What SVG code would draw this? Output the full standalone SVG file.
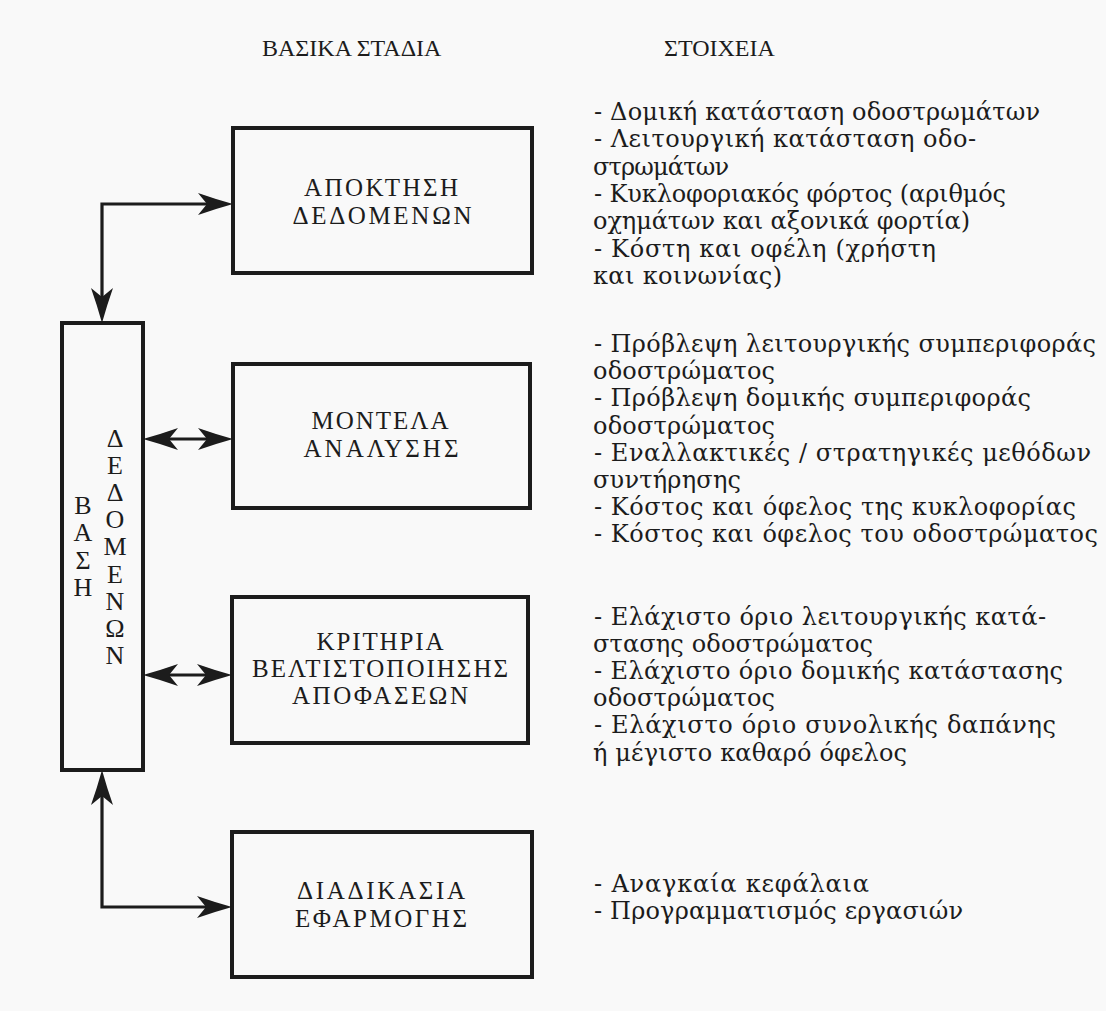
<svg xmlns="http://www.w3.org/2000/svg" width="1106" height="1011" viewBox="0 0 1106 1011">
<style>
.bg{fill:#f9f9f9}
.box{fill:none;stroke:#1c1c1c;stroke-width:4}
.conn{fill:none;stroke:#1c1c1c;stroke-width:3.2}
.cap{font-family:"Liberation Serif","DejaVu Serif",serif;font-size:25px;fill:#1c1c1c;text-anchor:middle}
.hd{font-family:"Liberation Serif","DejaVu Serif",serif;font-size:24px;fill:#1c1c1c}
.vt{font-family:"Liberation Serif","DejaVu Serif",serif;font-size:26px;fill:#1c1c1c;text-anchor:middle}
.it{font-family:"DejaVu Serif","Liberation Serif",serif;font-size:24px;fill:#1c1c1c}
</style>
<defs>
<marker id="ah" viewBox="-30 -12 40 24" refX="0" refY="0" markerWidth="40" markerHeight="24" markerUnits="userSpaceOnUse" orient="auto-start-reverse">
<path d="M8,0 Q-10,-5 -27,-11 L-18,0 L-27,11 Q-10,5 8,0 Z" fill="#1c1c1c"/>
</marker>
</defs>
<rect class="bg" x="0" y="0" width="1106" height="1011"/>

<g id="headers">
<text class="hd" x="262" y="56">ΒΑΣΙΚΑ ΣΤΑΔΙΑ</text>
<text class="hd" x="664" y="56">ΣΤΟΙΧΕΙΑ</text>
</g>

<g id="node-database">
<rect class="box" x="62" y="323" width="81" height="447"/>
<text class="vt" x="83" y="514">Β</text>
<text class="vt" x="83" y="541">Α</text>
<text class="vt" x="83" y="569">Σ</text>
<text class="vt" x="83" y="596">Η</text>
<text class="vt" x="115" y="447">Δ</text>
<text class="vt" x="115" y="474">Ε</text>
<text class="vt" x="115" y="501">Δ</text>
<text class="vt" x="115" y="528">Ο</text>
<text class="vt" x="115" y="555">Μ</text>
<text class="vt" x="115" y="583">Ε</text>
<text class="vt" x="115" y="610">Ν</text>
<text class="vt" x="115" y="637">Ω</text>
<text class="vt" x="115" y="664">Ν</text>
</g>

<g id="node-acquisition">
<rect class="box" x="233" y="128" width="299" height="145"/>
<text class="cap" x="381" y="196" textLength="154" lengthAdjust="spacing">ΑΠΟΚΤΗΣΗ</text>
<text class="cap" x="382" y="224" textLength="179" lengthAdjust="spacing">ΔΕΔΟΜΕΝΩΝ</text>
</g>

<g id="node-models">
<rect class="box" x="233" y="364" width="297" height="144"/>
<text class="cap" x="380" y="429" textLength="137" lengthAdjust="spacing">ΜΟΝΤΕΛΑ</text>
<text class="cap" x="381" y="457" textLength="155" lengthAdjust="spacing">ΑΝΑΛΥΣΗΣ</text>
</g>

<g id="node-criteria">
<rect class="box" x="232" y="597" width="296" height="146"/>
<text class="cap" x="380" y="650" textLength="127" lengthAdjust="spacing">ΚΡΙΤΗΡΙΑ</text>
<text class="cap" x="380" y="677" textLength="256" lengthAdjust="spacing">ΒΕΛΤΙΣΤΟΠΟΙΗΣΗΣ</text>
<text class="cap" x="380" y="704" textLength="176" lengthAdjust="spacing">ΑΠΟΦΑΣΕΩΝ</text>
</g>

<g id="node-implementation">
<rect class="box" x="232" y="832" width="300" height="145"/>
<text class="cap" x="381" y="899" textLength="168" lengthAdjust="spacing">ΔΙΑΔΙΚΑΣΙΑ</text>
<text class="cap" x="381" y="927" textLength="172" lengthAdjust="spacing">ΕΦΑΡΜΟΓΗΣ</text>
</g>

<g id="connectors">
<path class="conn" d="M102,315 V204 H225" marker-start="url(#ah)" marker-end="url(#ah)"/>
<path class="conn" d="M151,439 H225" marker-start="url(#ah)" marker-end="url(#ah)"/>
<path class="conn" d="M151,675 H224" marker-start="url(#ah)" marker-end="url(#ah)"/>
<path class="conn" d="M102,778 V907 H224" marker-start="url(#ah)" marker-end="url(#ah)"/>
</g>

<g id="items-acquisition">
<text class="it" x="594" y="120" textLength="446" lengthAdjust="spacing">- Δομική κατάσταση οδοστρωμάτων</text>
<text class="it" x="594" y="147" textLength="382" lengthAdjust="spacing">- Λειτουργική κατάσταση οδο-</text>
<text class="it" x="593" y="175" textLength="136" lengthAdjust="spacing">στρωμάτων</text>
<text class="it" x="594" y="202" textLength="412" lengthAdjust="spacing">- Κυκλοφοριακός φόρτος (αριθμός</text>
<text class="it" x="593" y="229" textLength="377" lengthAdjust="spacing">οχημάτων και αξονικά φορτία)</text>
<text class="it" x="594" y="257" textLength="342" lengthAdjust="spacing">- Κόστη  και οφέλη (χρήστη</text>
<text class="it" x="593" y="284" textLength="189" lengthAdjust="spacing">και κοινωνίας)</text>
</g>

<g id="items-models">
<text class="it" x="594" y="352" textLength="502" lengthAdjust="spacing">- Πρόβλεψη λειτουργικής συμπεριφοράς</text>
<text class="it" x="593" y="379" textLength="182" lengthAdjust="spacing">οδοστρώματος</text>
<text class="it" x="594" y="406" textLength="437" lengthAdjust="spacing">- Πρόβλεψη δομικής συμπεριφοράς</text>
<text class="it" x="593" y="434" textLength="182" lengthAdjust="spacing">οδοστρώματος</text>
<text class="it" x="594" y="461" textLength="497" lengthAdjust="spacing">- Εναλλακτικές / στρατηγικές μεθόδων</text>
<text class="it" x="593" y="488" textLength="148" lengthAdjust="spacing">συντήρησης</text>
<text class="it" x="594" y="515" textLength="482" lengthAdjust="spacing">- Κόστος και όφελος της κυκλοφορίας</text>
<text class="it" x="594" y="542" textLength="504" lengthAdjust="spacing">- Κόστος και όφελος του οδοστρώματος</text>
</g>

<g id="items-criteria">
<text class="it" x="594" y="625" textLength="452" lengthAdjust="spacing">- Ελάχιστο όριο λειτουργικής κατά-</text>
<text class="it" x="593" y="652" textLength="280" lengthAdjust="spacing">στασης οδοστρώματος</text>
<text class="it" x="594" y="679" textLength="469" lengthAdjust="spacing">- Ελάχιστο όριο δομικής κατάστασης</text>
<text class="it" x="593" y="706" textLength="182" lengthAdjust="spacing">οδοστρώματος</text>
<text class="it" x="594" y="733" textLength="462" lengthAdjust="spacing">- Ελάχιστο όριο  συνολικής δαπάνης</text>
<text class="it" x="593" y="761" textLength="314" lengthAdjust="spacing">ή μέγιστο καθαρό όφελος</text>
</g>

<g id="items-implementation">
<text class="it" x="594" y="892" textLength="275" lengthAdjust="spacing">- Αναγκαία κεφάλαια</text>
<text class="it" x="594" y="919" textLength="369" lengthAdjust="spacing">- Προγραμματισμός εργασιών</text>
</g>
</svg>
